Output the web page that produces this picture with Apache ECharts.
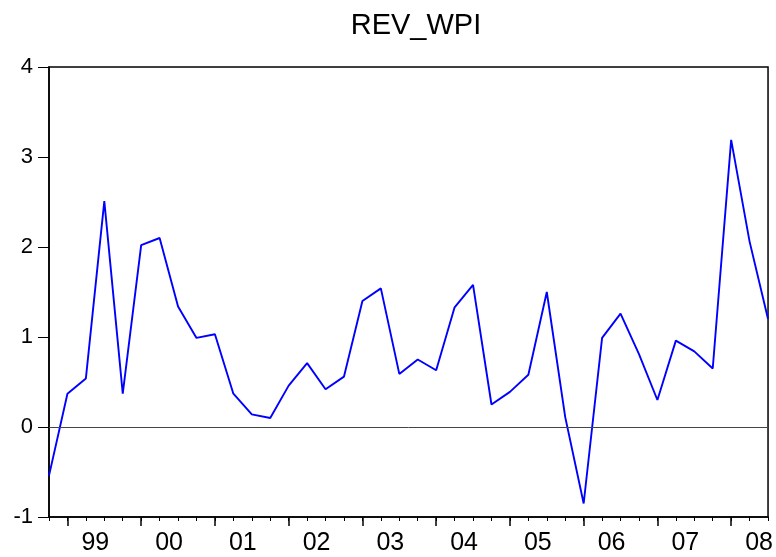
<!DOCTYPE html>
<html>
<head>
<meta charset="utf-8">
<script src="https://cdn.jsdelivr.net/npm/echarts@6/dist/echarts.min.js"></script>
<style>
  html, body { margin: 0; padding: 0; background: #fff; }
  #chart { width: 776px; height: 557px; }
</style>
</head>
<body>
<div id="chart"></div>
<script>
// quarters 1998Q4 .. 2008Q3
var quarters = ['1998Q4',
  '1999Q1', '1999Q2', '1999Q3', '1999Q4',
  '2000Q1', '2000Q2', '2000Q3', '2000Q4',
  '2001Q1', '2001Q2', '2001Q3', '2001Q4',
  '2002Q1', '2002Q2', '2002Q3', '2002Q4',
  '2003Q1', '2003Q2', '2003Q3', '2003Q4',
  '2004Q1', '2004Q2', '2004Q3', '2004Q4',
  '2005Q1', '2005Q2', '2005Q3', '2005Q4',
  '2006Q1', '2006Q2', '2006Q3', '2006Q4',
  '2007Q1', '2007Q2', '2007Q3', '2007Q4',
  '2008Q1', '2008Q2', '2008Q3'];

var revWpi = [-0.54,
  0.37, 0.54, 2.51, 0.37,
  2.02, 2.10, 1.34, 0.99,
  1.03, 0.37, 0.14, 0.10,
  0.46, 0.71, 0.42, 0.56,
  1.40, 1.54, 0.59, 0.75,
  0.63, 1.33, 1.58, 0.25,
  0.39, 0.58, 1.50, 0.11,
  -0.85, 0.99, 1.26, 0.81,
  0.30, 0.96, 0.84, 0.65,
  3.19, 2.06, 1.20];

var yTicks = [-1, 0, 1, 2, 3, 4];

var chart = echarts.init(document.getElementById('chart'));

chart.setOption({
  animation: false,
  backgroundColor: '#fff',
  title: {
    text: 'REV_WPI',
    left: 411,
    textAlign: 'center',
    top: 6,
    textStyle: {
      fontFamily: 'Liberation Sans',
      fontSize: 29,
      fontWeight: 'normal',
      color: '#000'
    }
  },
  grid: {
    left: 49,
    right: 3,
    top: 67,
    bottom: 40,
    show: true,
    borderColor: '#000',
    borderWidth: 1.5
  },
  xAxis: [
    {
      type: 'category',
      data: quarters,
      boundaryGap: false,
      position: 'bottom',
      axisLine: { onZero: false, lineStyle: { color: '#000', width: 1.5 } },
      axisTick: {
        show: true,
        interval: 0,
        length: 4,
        lineStyle: { color: '#000', width: 1 }
      },
      axisLabel: {
        // year label sits between Q2 and Q3
        interval: function (i, v) { return v.slice(4) === 'Q2'; },
        formatter: function (v) { return v.slice(2, 4); },
        padding: [0, 0, 0, 19],
        margin: 14,
        fontFamily: 'Liberation Sans Narrow, Liberation Sans',
        fontSize: 25,
        color: '#000'
      },
      splitLine: { show: false }
    },
    {
      type: 'category',
      data: quarters,
      boundaryGap: false,
      position: 'bottom',
      axisLine: { show: false, onZero: false },
      axisTick: {
        show: true,
        interval: function (i, v) { return v.slice(4) === 'Q1'; },
        length: 9,
        lineStyle: { color: '#000', width: 1.5 }
      },
      axisLabel: { show: false },
      splitLine: { show: false }
    }
  ],
  yAxis: {
    type: 'value',
    min: yTicks[0],
    max: yTicks[yTicks.length - 1],
    interval: 1,
    axisLine: { show: true, lineStyle: { color: '#000', width: 1.5 } },
    axisTick: { show: true, length: 11, lineStyle: { color: '#000', width: 1 } },
    axisLabel: {
      margin: 16,
      fontFamily: 'Liberation Sans',
      fontSize: 22,
      color: '#000'
    },
    splitLine: { show: false }
  },
  series: [{
    name: 'REV_WPI',
    type: 'line',
    xAxisIndex: 0,
    data: revWpi,
    showSymbol: false,
    lineStyle: { color: '#0000ff', width: 1.9 },
    markLine: {
      silent: true,
      symbol: 'none',
      label: { show: false },
      lineStyle: { color: '#444', width: 1, type: 'solid' },
      data: [{ yAxis: 0 }]
    }
  }]
});
</script>
</body>
</html>
